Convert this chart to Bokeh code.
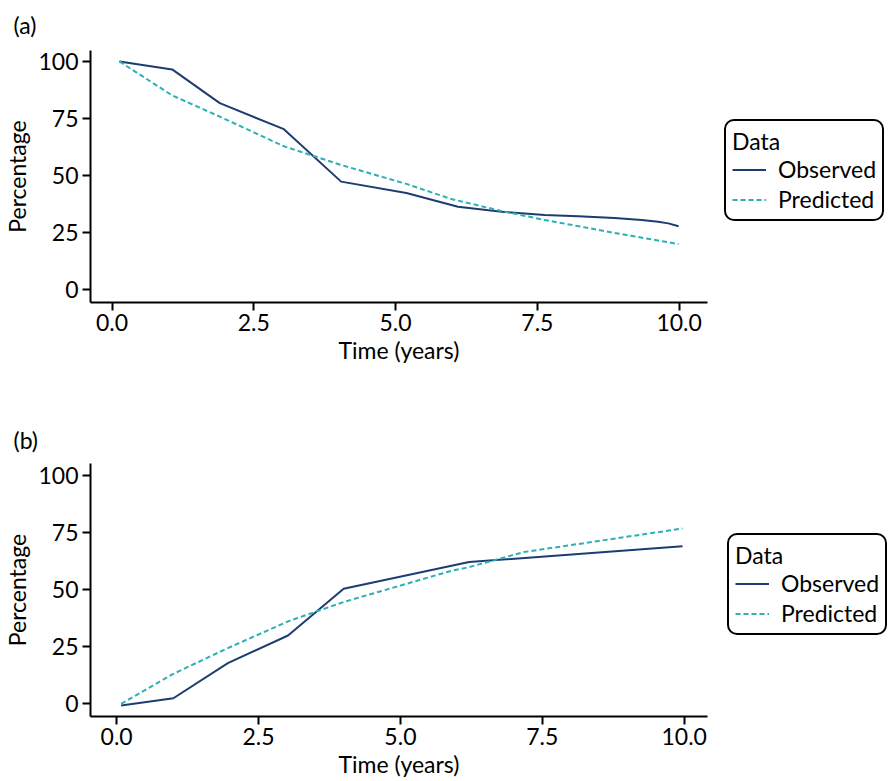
from bokeh.plotting import figure
from bokeh.models import Range1d, Legend, LegendItem, FixedTicker, ColumnDataSource
from bokeh.layouts import column
from bokeh.embed import file_html
from bokeh.resources import INLINE

FONT = "Lato"
FS = "23px"

# ---- data ----
panel_labels = ["(a)", "(b)"]
series_names = ["Observed", "Predicted"]
x_ticks = [0.0, 2.5, 5.0, 7.5, 10.0]
x_tick_labels = ["0.0", "2.5", "5.0", "7.5", "10.0"]
y_ticks = [0, 25, 50, 75, 100]
y_tick_labels = ["0", "25", "50", "75", "100"]

a_obs_t = [0.13, 1.06, 1.90, 3.03, 4.04, 5.19, 6.10, 6.87, 7.63, 8.22, 8.86, 9.34, 9.63, 9.81, 9.99]
a_obs_y = [100.0, 96.5, 81.7, 70.3, 47.3, 42.3, 36.3, 34.1, 32.7, 32.1, 31.4, 30.5, 29.7, 29.0, 27.7]
a_pred_t = [0.13, 1.06, 1.90, 3.03, 4.04, 5.19, 5.98, 6.87, 7.63, 8.86, 9.99]
a_pred_y = [100.0, 85.1, 75.8, 62.8, 54.6, 46.3, 39.7, 34.4, 30.5, 24.8, 19.9]

b_obs_t = [0.08, 1.00, 1.96, 3.02, 4.00, 6.21, 9.97]
b_obs_y = [-1.0, 2.2, 17.6, 29.7, 50.2, 61.9, 68.8]
b_pred_t = [0.08, 1.00, 1.96, 3.02, 4.00, 5.89, 6.21, 7.18, 9.97]
b_pred_y = [-0.3, 12.9, 24.2, 35.9, 44.4, 58.0, 59.7, 66.3, 76.6]

OBS_COLOR = "#1D3C72"
PRED_COLOR = "#2EAFB5"


def make_panel(label, obs_t, obs_y, pred_t, pred_y, xr, yr, top, bottom, fh,
               leg_x, title_standoff):
    p = figure(frame_width=617, frame_height=fh, output_backend="svg",
               toolbar_location=None, x_range=Range1d(*xr), y_range=Range1d(*yr),
               min_border_left=89, min_border_right=189, min_border_top=top,
               min_border_bottom=bottom, title=label)
    p.title.text_font = FONT
    p.title.text_font_size = FS
    p.title.text_font_style = "normal"
    p.title.text_color = "black"
    p.title.align = "left"
    p.title.vertical_align = "top"
    p.title.offset = -77
    p.title.standoff = title_standoff
    p.outline_line_color = None
    p.xgrid.visible = False
    p.ygrid.visible = False

    src_o = ColumnDataSource(dict(t=obs_t, y=obs_y))
    src_p = ColumnDataSource(dict(t=pred_t, y=pred_y))
    r1 = p.line("t", "y", source=src_o, line_color=OBS_COLOR, line_width=2)
    r2 = p.line("t", "y", source=src_p, line_color=PRED_COLOR, line_width=2,
                line_dash="5 3")

    for ax, ticks, labels in ((p.xaxis[0], x_ticks, x_tick_labels),
                              (p.yaxis[0], y_ticks, y_tick_labels)):
        ax.ticker = FixedTicker(ticks=ticks)
        ax.major_label_overrides = {t: l for t, l in zip(ticks, labels)}
        ax.minor_tick_line_color = None
        ax.major_tick_in = 0
        ax.major_tick_out = 8
        ax.axis_line_width = 2
        ax.major_tick_line_width = 2
        ax.axis_line_color = "black"
        ax.major_tick_line_color = "black"
        ax.major_label_text_font = FONT
        ax.major_label_text_font_size = FS
        ax.major_label_text_color = "black"
        ax.axis_label_text_font = FONT
        ax.axis_label_text_font_size = FS
        ax.axis_label_text_font_style = "normal"
        ax.axis_label_text_color = "black"
    p.xaxis[0].axis_label = "Time (years)"
    p.yaxis[0].axis_label = "Percentage"
    p.xaxis[0].major_label_standoff = 3
    p.xaxis[0].axis_label_standoff = 2
    p.yaxis[0].major_label_standoff = 4
    p.yaxis[0].axis_label_standoff = 4

    legend = Legend(items=[LegendItem(label=series_names[0], renderers=[r1]),
                           LegendItem(label=series_names[1], renderers=[r2])],
                    title="Data", location=(leg_x, 81), margin=0,
                    title_text_font=FONT, title_text_font_size=FS,
                    title_text_font_style="normal", title_text_color="black",
                    label_text_font=FONT, label_text_font_size=FS,
                    label_text_color="black",
                    border_line_color="black", border_line_alpha=1.0,
                    border_line_width=2, border_radius=10,
                    background_fill_color="white", background_fill_alpha=1.0,
                    padding=6, spacing=2,
                    glyph_width=34, glyph_height=25, label_height=25,
                    label_standoff=12, title_standoff=0)
    p.add_layout(legend, "right")
    return p


p1 = make_panel(panel_labels[0], a_obs_t, a_obs_y, a_pred_t, a_pred_y,
                (-0.38, 10.5), (-5.7, 104.8), 50, 113, 252, 17, 20)
p2 = make_panel(panel_labels[1], b_obs_t, b_obs_y, b_pred_t, b_pred_y,
                (-0.46, 10.41), (-5.8, 105.1), 48, 60, 253, 20, 16)

layout = column(p1, p2, spacing=0)
open("out.html", "w").write(file_html(layout, INLINE))
